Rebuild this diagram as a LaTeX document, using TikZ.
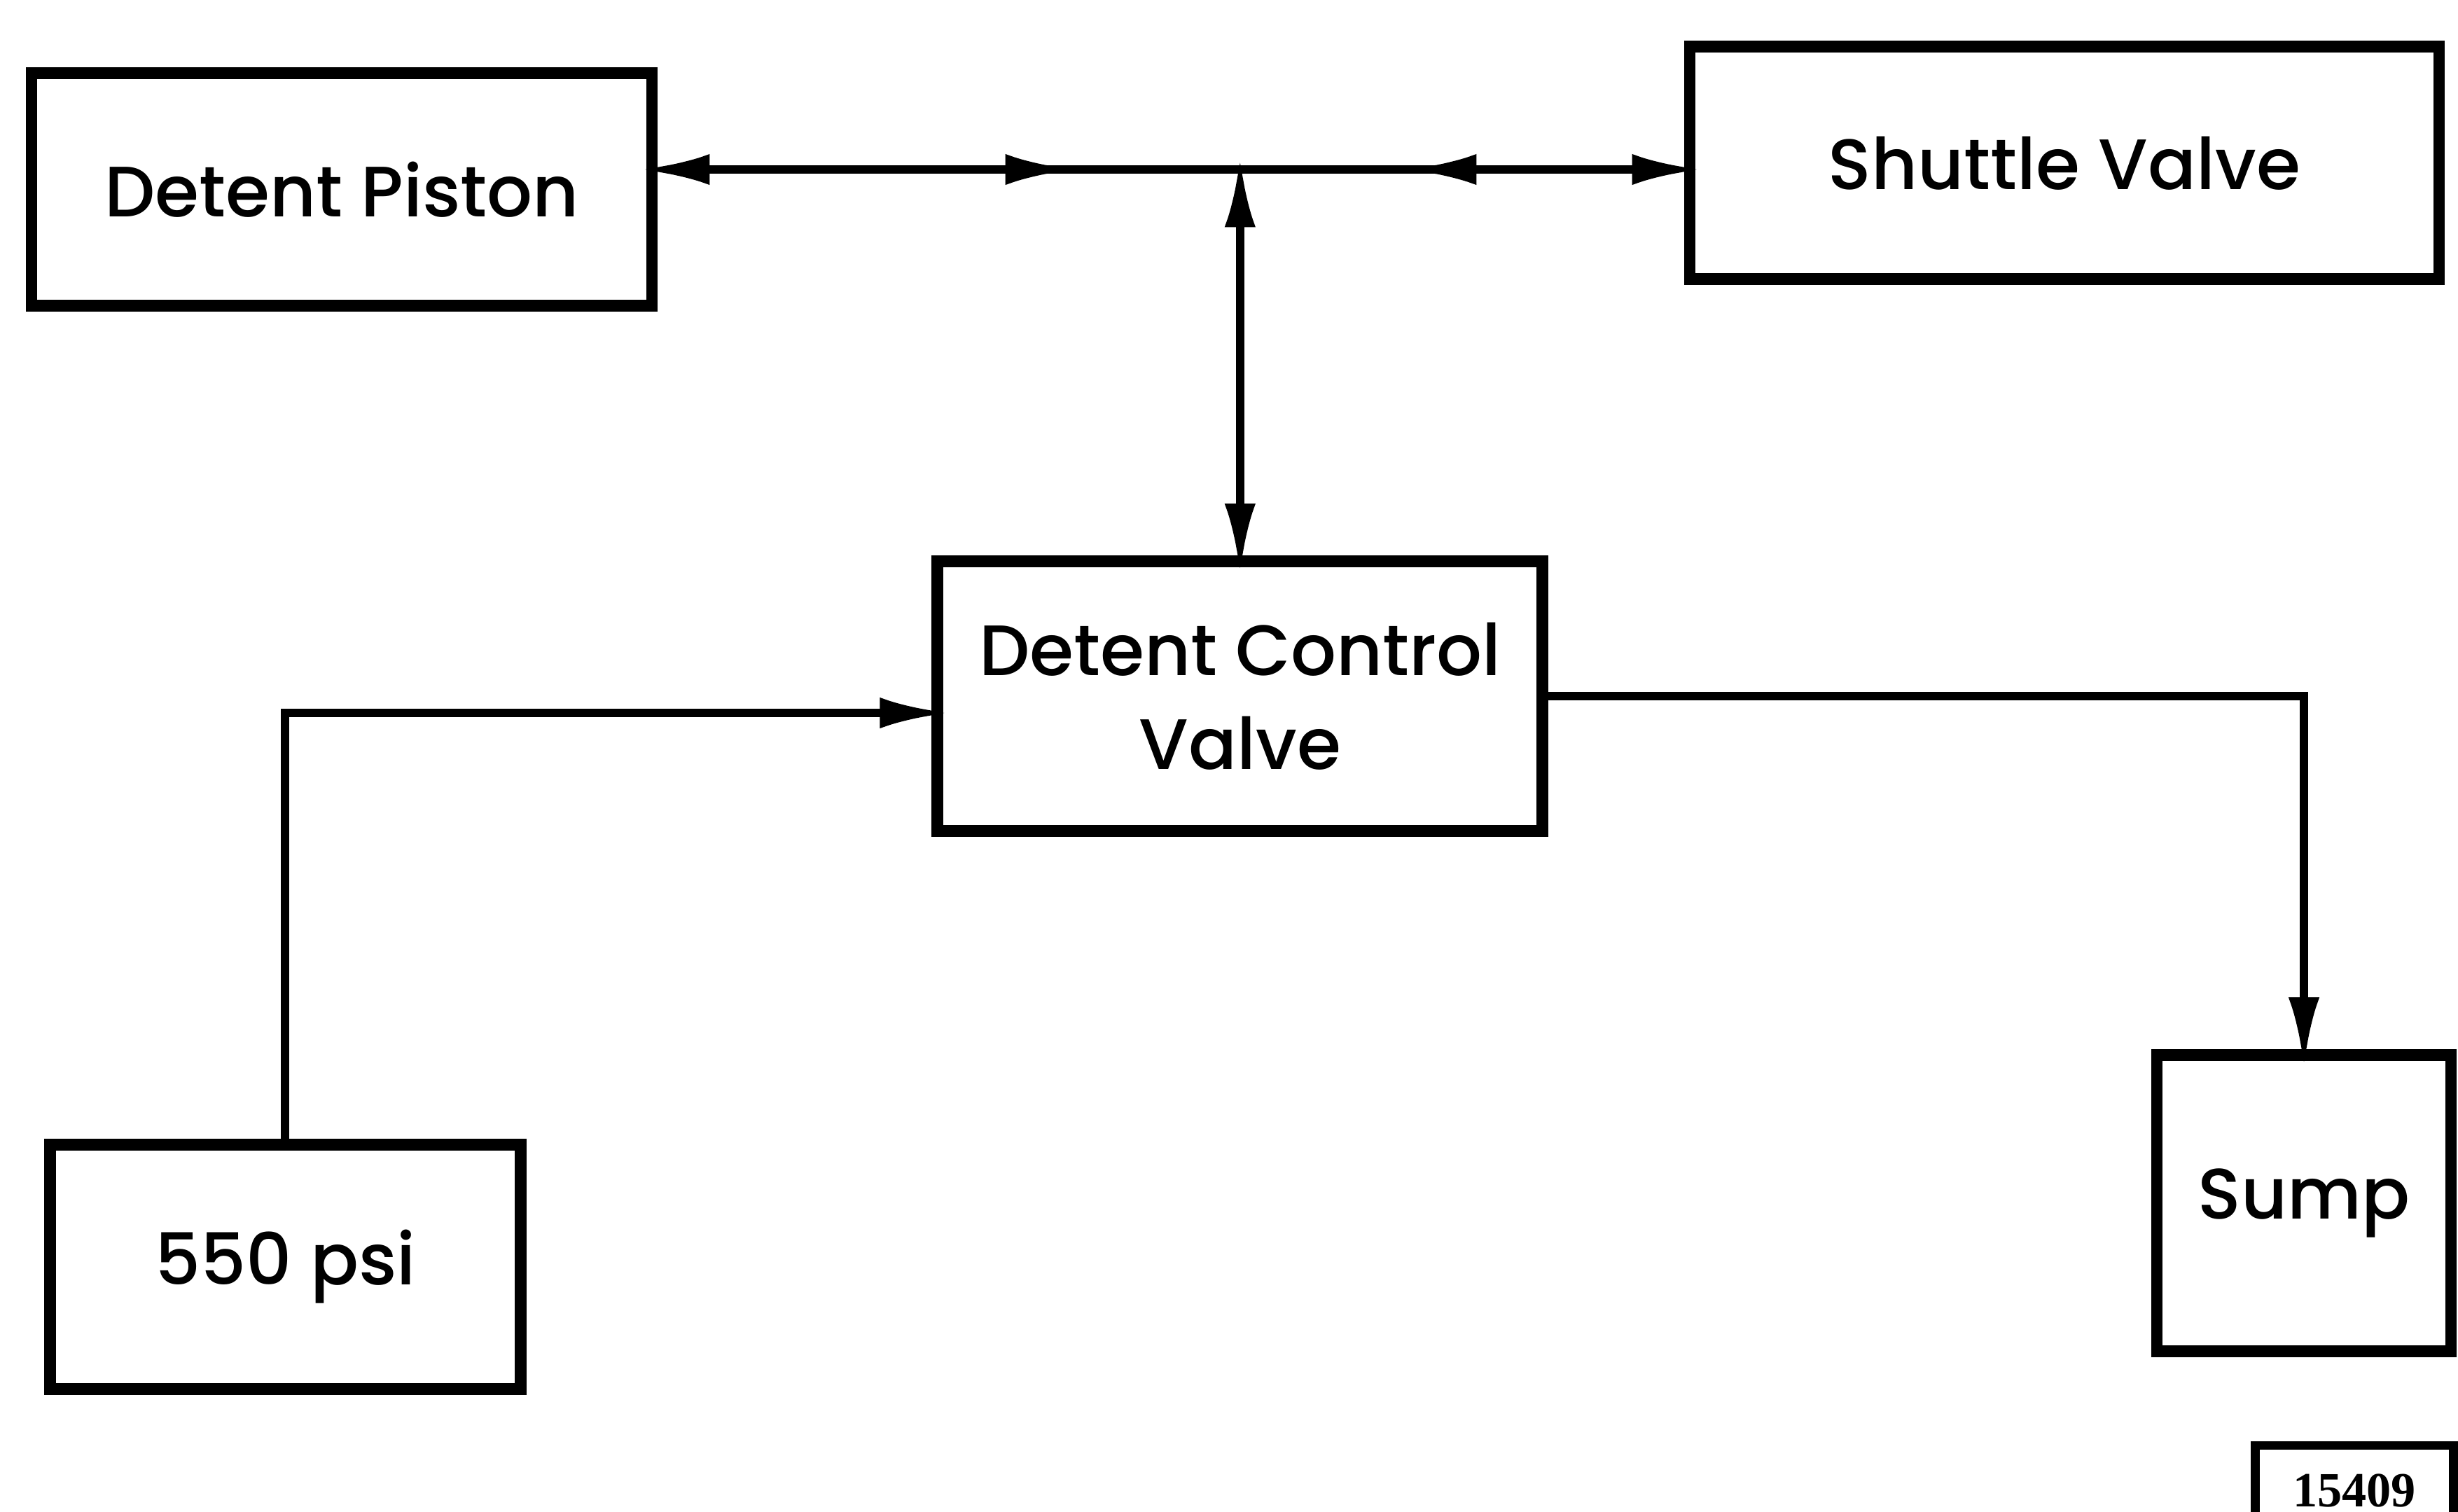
\documentclass[tikz,border=0pt]{standalone}
\usepackage{fontspec}
\setmainfont{Poppins}[UprightFont=* Medium]
\newfontfamily\tagfont{Liberation Serif}
\usepackage{tikz}
\usetikzlibrary{arrows.meta,positioning,calc,decorations.markings}
\tikzset{
    >={Latex[length=0.5cm, width=0.22cm]},
    block/.style={rectangle, draw=black, line width=2.4pt, outer sep=0pt, align=center, font=\fontsize{14.5}{19}\selectfont},
    figtag/.style={rectangle, draw=black, line width=1.8pt, font=\tagfont\bfseries\fontsize{10}{12}\selectfont},
    pipe/.style={line width=1.7pt, black},
    reach/.style={shorten >=-2.5pt},
    reachback/.style={shorten <=-2.5pt},
    midfwd/.style={postaction={decorate, decoration={markings, mark=at position #1 with {\arrow{>}}}}},
    midback/.style={postaction={decorate, decoration={markings, mark=at position #1 with {\arrowreversed{>}}}}},
}

\begin{document}
\begin{tikzpicture}
    \useasboundingbox (0,0) rectangle (17.55,-10.79);
    % blocks
    \node[block, minimum width=4.43cm, minimum height=1.66cm] (dp) at (2.44,-1.354) {Detent Piston};
    \node[block, minimum width=5.35cm, minimum height=1.66cm] (sv) at (14.74,-1.164) {Shuttle Valve};
    \node[block, minimum width=4.32cm, minimum height=1.925cm] (dcv) at (8.854,-4.97) {Detent Control\\Valve};
    \node[block, minimum width=3.358cm, minimum height=1.746cm] (psi) at (2.037,-9.044) {550 psi};
    \node[block, minimum width=2.1cm, minimum height=2.115cm] (sump) at (16.45,-8.59) {Sump};
    \node[figtag, minimum width=1.415cm, minimum height=0.64cm] (fig) at (16.81,-10.64) {15409};
    % lines
    \coordinate (j) at (dcv.north |- 0,-1.21);
    \draw[pipe, <-, reachback, midfwd=0.72] (dp.east |- j) -- (j);
    \draw[pipe, ->, reach, midback=0.37] (j) -- (sv.west |- j);
    \draw[pipe, <->, reach, reachback] (j) -- (dcv.north);
    \draw[pipe, ->, reach] (psi.north) |- ($(dcv.west)+(0,-0.12)$);
    \draw[pipe, ->, reach] (dcv.east) -| (sump.north);
\end{tikzpicture}
\end{document}
